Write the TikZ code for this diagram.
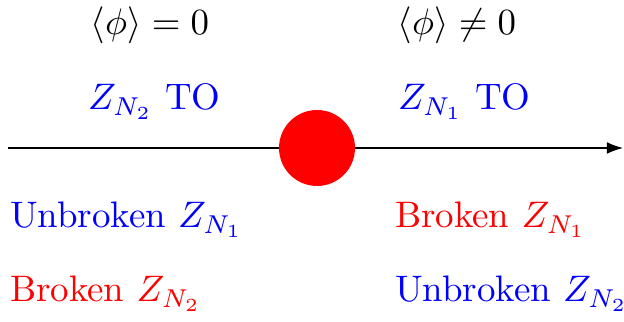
\documentclass[tikz,border=0pt]{standalone}
\usetikzlibrary{arrows.meta}
\begin{document}
\begin{tikzpicture}[x=0.271pt,y=-0.271pt,
  lbl/.style={inner sep=0pt,outer sep=0pt},
  axis/.style={line width=0.3pt,-{Latex[length=4.4pt,width=3.2pt]}},
  dot/.style={circle,fill=red,draw=none,minimum size=76*0.271pt,inner sep=0pt}]
\useasboundingbox (0,0) rectangle (624,322);
\coordinate (s) at (8,148);
\coordinate (e) at (623,148);
\draw[axis] (s) -- (e);
\node[dot] (c) at (317,148) {};
\node[lbl,anchor=base] (v0) at (150,35) {$\langle\phi\rangle=0$};
\node[lbl,anchor=base] (v1) at (457,35) {$\langle\phi\rangle\neq0$};
\node[lbl,anchor=base west,text=blue] (t2) at (88,110) {$Z_{N_2}$ TO};
\node[lbl,anchor=base west,text=blue] (t1) at (398,110) {$Z_{N_1}$ TO};
\node[lbl,anchor=base west,text=blue] (u1) at (10,228) {Unbroken $Z_{N_1}$};
\node[lbl,anchor=base west,text=red] (b2) at (10,302) {Broken $Z_{N_2}$};
\node[lbl,anchor=base west,text=red] (b1) at (395,228) {Broken $Z_{N_1}$};
\node[lbl,anchor=base west,text=blue] (u2) at (395,302) {Unbroken $Z_{N_2}$};
\end{tikzpicture}
\end{document}
